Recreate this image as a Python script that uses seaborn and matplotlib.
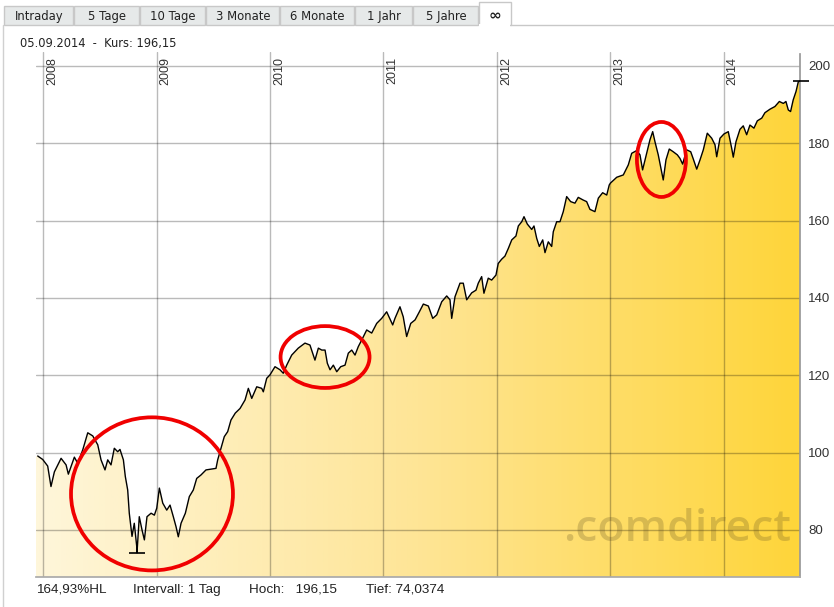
import numpy as np
import pandas as pd
import seaborn as sns
import matplotlib.pyplot as plt
from matplotlib.colors import LinearSegmentedColormap
from matplotlib.patches import Ellipse, Rectangle, Polygon
from matplotlib.transforms import Affine2D, blended_transform_factory

# Kursverlauf, Zeit als Dezimaljahr
zeit = [2007.953, 2007.997, 2008.041, 2008.070, 2008.100, 2008.159, 2008.203, 2008.223, 2008.276, 2008.306,
        2008.350, 2008.394, 2008.438, 2008.482, 2008.511, 2008.546, 2008.570, 2008.599, 2008.628, 2008.658,
        2008.678, 2008.708, 2008.725, 2008.746, 2008.760, 2008.784, 2008.804, 2008.826, 2008.828, 2008.848,
        2008.872, 2008.893, 2008.916, 2008.952, 2008.981, 2009.002, 2009.025, 2009.055, 2009.090, 2009.119,
        2009.148, 2009.172, 2009.192, 2009.216, 2009.254, 2009.289, 2009.324, 2009.354, 2009.392, 2009.436,
        2009.480, 2009.524, 2009.539, 2009.568, 2009.597, 2009.627, 2009.656, 2009.694, 2009.736, 2009.780,
        2009.809, 2009.839, 2009.883, 2009.927, 2009.941, 2009.971, 2010.000, 2010.044, 2010.088, 2010.117,
        2010.147, 2010.191, 2010.249, 2010.308, 2010.352, 2010.376, 2010.396, 2010.426, 2010.456, 2010.485,
        2010.505, 2010.529, 2010.558, 2010.588, 2010.623, 2010.661, 2010.690, 2010.720, 2010.749, 2010.778,
        2010.808, 2010.852, 2010.896, 2010.940, 2010.984, 2011.028, 2011.081, 2011.101, 2011.145, 2011.174,
        2011.204, 2011.240, 2011.278, 2011.316, 2011.351, 2011.395, 2011.434, 2011.469, 2011.513, 2011.557,
        2011.586, 2011.601, 2011.630, 2011.674, 2011.703, 2011.733, 2011.777, 2011.815, 2011.835, 2011.865,
        2011.885, 2011.923, 2011.953, 2011.991, 2012.011, 2012.041, 2012.070, 2012.100, 2012.130, 2012.167,
        2012.188, 2012.218, 2012.238, 2012.267, 2012.306, 2012.326, 2012.350, 2012.373, 2012.403, 2012.423,
        2012.452, 2012.482, 2012.496, 2012.526, 2012.555, 2012.584, 2012.614, 2012.649, 2012.687, 2012.716,
        2012.760, 2012.790, 2012.819, 2012.863, 2012.893, 2012.931, 2012.967, 2012.989, 2013.000, 2013.055,
        2013.113, 2013.157, 2013.187, 2013.231, 2013.260, 2013.283, 2013.319, 2013.348, 2013.372, 2013.392,
        2013.421, 2013.442, 2013.465, 2013.489, 2013.518, 2013.553, 2013.589, 2013.612, 2013.636, 2013.671,
        2013.707, 2013.730, 2013.760, 2013.789, 2013.818, 2013.853, 2013.892, 2013.921, 2013.936, 2013.965,
        2014.000, 2014.038, 2014.068, 2014.082, 2014.106, 2014.141, 2014.170, 2014.200, 2014.229, 2014.264,
        2014.294, 2014.333, 2014.361, 2014.405, 2014.449, 2014.488, 2014.523, 2014.546, 2014.567, 2014.587,
        2014.610, 2014.635, 2014.655, 2014.675]
kurs = [99.1, 98.2, 96.5, 91.2, 95.0, 98.5, 96.8, 94.4, 98.8, 97.2,
        100.7, 105.1, 104.3, 102.0, 98.1, 95.5, 98.1, 96.8, 101.1, 100.2,
        100.8, 98.1, 93.8, 90.3, 84.3, 78.3, 81.7, 75.6, 74.04, 83.4,
        80.0, 77.4, 83.4, 84.3, 83.8, 85.6, 90.8, 86.9, 85.1, 86.4,
        83.4, 80.8, 78.2, 81.7, 84.3, 88.6, 90.3, 93.3, 94.2, 95.5,
        95.7, 95.9, 98.1, 101.1, 104.1, 105.4, 108.4, 110.2, 111.4, 113.6,
        116.6, 114.0, 117.0, 116.6, 115.7, 119.2, 120.1, 122.2, 121.4, 120.5,
        122.6, 125.2, 127.0, 128.3, 127.8, 125.7, 123.9, 127.0, 126.5, 126.5,
        123.1, 121.4, 122.6, 120.9, 122.2, 122.6, 125.7, 126.5, 125.2, 127.4,
        129.1, 131.7, 130.9, 133.4, 134.7, 136.4, 133.0, 134.7, 137.7, 135.1,
        130.0, 133.4, 134.3, 136.4, 138.4, 137.9, 134.7, 135.6, 139.0, 140.5,
        139.5, 134.7, 140.3, 143.8, 143.8, 139.5, 141.3, 142.0, 143.8, 145.5,
        141.2, 145.1, 144.6, 145.9, 148.9, 150.0, 150.8, 152.8, 155.0, 156.0,
        158.6, 159.7, 161.0, 159.1, 157.7, 158.6, 155.4, 153.3, 155.0, 151.7,
        154.5, 153.3, 157.1, 159.7, 159.7, 162.3, 166.2, 164.9, 164.5, 166.0,
        165.3, 164.9, 162.9, 162.3, 165.8, 167.2, 166.6, 169.2, 169.7, 171.2,
        171.8, 174.4, 177.4, 178.1, 177.0, 173.1, 177.4, 180.9, 183.0, 180.4,
        177.0, 173.9, 170.5, 175.7, 178.5, 177.8, 177.0, 176.1, 174.6, 178.3,
        177.8, 175.9, 173.3, 175.7, 178.3, 182.6, 181.3, 179.6, 176.5, 181.3,
        182.4, 183.0, 178.7, 176.4, 180.4, 183.6, 184.5, 182.2, 184.7, 183.9,
        185.8, 186.5, 187.9, 188.8, 189.5, 190.8, 190.3, 190.8, 188.6, 188.2,
        191.2, 193.4, 195.9, 196.15]

jahre = [2008, 2009, 2010, 2011, 2012, 2013, 2014]
y_ticks = [80, 100, 120, 140, 160, 180, 200]
tabs = ["Intraday", "5 Tage", "10 Tage", "3 Monate", "6 Monate", "1 Jahr", "5 Jahre", "\u221e"]
tab_kanten = [4, 74, 140, 206, 280, 355, 413, 479, 511]
# rote Markierungen: (mitte x, mitte y, breite, hoehe)
kreise = [(2008.960, 89.3, 1.427, 39.6), (2010.485, 124.7, 0.784, 16.0), (2013.449, 175.8, 0.432, 19.4)]
kopf = "05.09.2014  -  Kurs: 196,15"
fuss = [(36, "164,93%HL"), (133, "Intervall: 1 Tag"), (249, "Hoch:   196,15"), (366, "Tief: 74,0374")]

df = pd.DataFrame({"zeit": zeit, "kurs": kurs})

sns.set_theme(style="white")
plt.rcParams['font.family'] = ['Liberation Sans', 'DejaVu Sans']

W, H = 834, 607
fig = plt.figure(figsize=(W / 100, H / 100), dpi=100)
pix = Affine2D().scale(1 / W, -1 / H).translate(0, 1) + fig.transFigure

ax = fig.add_axes([36 / W, (H - 577) / H, 764 / W, 525 / H])
x0, x1 = 2007.938, 2014.670
y0, y1 = 67.8, 203.6
ax.set_xlim(x0, x1)
ax.set_ylim(y0, y1)

# Verlaufsfuellung unter der Kurve
cmap = LinearSegmentedColormap.from_list("gelb", ["#fef6da", "#fee596", "#ffd53a"])
grad = np.linspace(0, 1, 400).reshape(1, -1)
img = ax.imshow(grad, extent=[x0, x1, y0, y1], aspect="auto", cmap=cmap, zorder=1, origin="lower")
verts = [(x0, df.kurs.iloc[0])] + list(zip(df.zeit, df.kurs)) + [(df.zeit.iloc[-1], y0), (x0, y0)]
poly = Polygon(verts, closed=True, facecolor="none", edgecolor="none")
ax.add_patch(poly)
img.set_clip_path(poly)

for j in jahre:
    ax.axvline(j, color="black", alpha=0.27, lw=1, zorder=2)
for v in y_ticks:
    ax.axhline(v, color="black", alpha=0.27, lw=1, zorder=2)

ax.text(0.988, 0.05, ".comdirect", transform=ax.transAxes, ha="right", va="bottom",
        fontsize=32, family=["Open Sans"], weight="semibold", color="#5a4a20", alpha=0.24, zorder=2)

sns.lineplot(data=df, x="zeit", y="kurs", ax=ax, color="black", lw=1, zorder=4, legend=False)

# Hoch / Tief Markierungen
i_hoch = int(np.argmax(kurs))
i_tief = int(np.argmin(kurs))
ax.plot([zeit[i_hoch]], [kurs[i_hoch]], marker="_", ms=11, mew=1.2, color="black", zorder=5, clip_on=False)
ax.plot([zeit[i_tief]], [kurs[i_tief]], marker="_", ms=11, mew=1.2, color="black", zorder=5)

for cx, cy, w, h in kreise:
    ax.add_patch(Ellipse((cx, cy), w, h, fill=False, edgecolor="#f00000", lw=2.7, zorder=6))

btrans = blended_transform_factory(ax.transData, ax.transAxes)
for j in jahre:
    ax.text(j + 0.025, 0.99, str(j), transform=btrans, rotation=90, ha="left", va="top",
            fontsize=9, color="#333333", zorder=5)

ax.set_xticks([])
ax.yaxis.tick_right()
ax.set_yticks(y_ticks)
ax.tick_params(axis="y", length=0, pad=6, labelsize=9.5, labelcolor="#333333")
ax.set_xlabel("")
ax.set_ylabel("")
for s in ["top", "left"]:
    ax.spines[s].set_visible(False)
ax.spines["right"].set_color("#999999")
ax.spines["bottom"].set_color("#aaaaaa")
ax.spines["right"].set_bounds(y0, 203.0)

# Reiter oben
for i, name in enumerate(tabs):
    a, b = tab_kanten[i], tab_kanten[i + 1]
    if i == len(tabs) - 1:
        fig.patches.append(Rectangle((a, 2), b - a, 23, transform=pix, facecolor="white",
                                     edgecolor="#c8c8c8", lw=1))
        fig.patches.append(Rectangle((a + 0.5, 24), b - a - 1, 3, transform=pix, facecolor="white",
                                     edgecolor="none"))
        fig.text((a + b) / 2 / W, 1 - 15.5 / H, name, ha="center", va="center", fontsize=11,
                 family=["DejaVu Sans"], weight="bold", color="#222222")
    else:
        fig.patches.append(Rectangle((a, 6), b - a - 1, 19, transform=pix, facecolor="#e6e9e9",
                                     edgecolor="#c8c8c8", lw=1))
        fig.text((a + b) / 2 / W, 1 - 16.5 / H, name, ha="center", va="center", fontsize=8.4,
                 family=["DejaVu Sans"], color="#222222")
fig.lines.append(plt.Line2D([511, W], [25, 25], transform=pix, color="#c8c8c8", lw=1))
fig.lines.append(plt.Line2D([3, 3], [25, H], transform=pix, color="#d0d0d0", lw=1))

fig.text(20 / W, 1 - 44 / H, kopf, ha="left", va="center", fontsize=8.3,
         family=["DejaVu Sans"], color="#222222")
for xp, txt in fuss:
    fig.text(xp / W, 1 - 590 / H, txt, ha="left", va="center", fontsize=9.7, color="#222222")

fig.savefig("out.png", dpi=100)
